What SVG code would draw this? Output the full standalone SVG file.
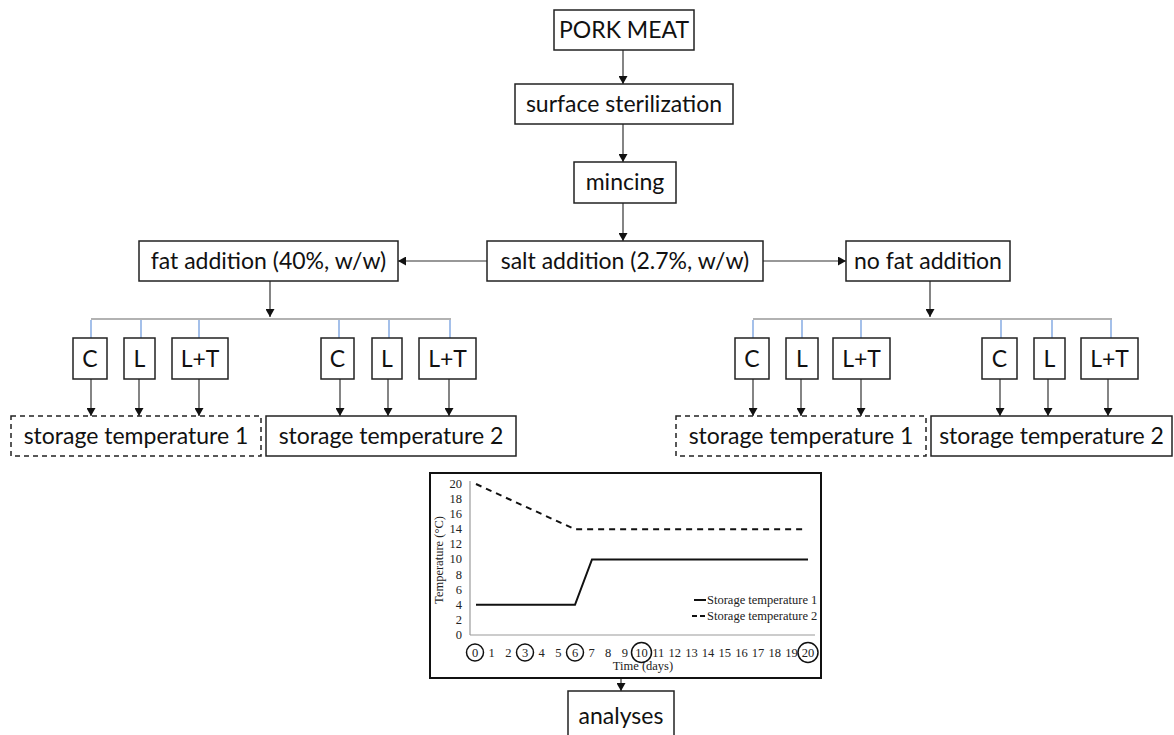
<svg xmlns="http://www.w3.org/2000/svg" width="1174" height="735" viewBox="0 0 1174 735">
  <style>
    .box { fill: #fff; stroke: #222; stroke-width: 1.5; }
    .dash { fill: #fff; stroke: #222; stroke-width: 1.5; stroke-dasharray: 5 4; }
    .lbl { font-family: Lato, "Liberation Sans", sans-serif; font-size: 23px; fill: #111; text-anchor: middle; }
    .arrow { stroke: #333; stroke-width: 1.2; fill: none; marker-end: url(#head); }
    .bar { stroke: #666; stroke-width: 1.2; fill: none; }
    .tick { stroke: #7fa6e2; stroke-width: 1.4; fill: none; }
    .ch { font-family: "Liberation Serif", serif; font-size: 12.5px; fill: #222; }
    .ax { stroke: #9a9a9a; stroke-width: 1.2; fill: none; }
    .ring { fill: none; stroke: #111; stroke-width: 1.5; }
  </style>
  <defs>
    <marker id="head" markerUnits="userSpaceOnUse" markerWidth="9" markerHeight="9" refX="8" refY="4.5" orient="auto">
      <path d="M0,0 L8,4.5 L0,9 z" fill="#111"/>
    </marker>
  </defs>
  <rect width="1174" height="735" fill="#fff"/>

  <!-- connectors -->
  <g id="connectors">
    <line class="arrow" x1="623" y1="50" x2="623" y2="84"/>
    <line class="arrow" x1="623" y1="124" x2="623" y2="162"/>
    <line class="arrow" x1="623" y1="203" x2="623" y2="241"/>
    <line class="arrow" x1="487" y1="261" x2="398" y2="261"/>
    <line class="arrow" x1="763" y1="261" x2="846" y2="261"/>
    <line class="arrow" x1="270" y1="281" x2="270" y2="317"/>
    <line class="arrow" x1="930" y1="281" x2="930" y2="317"/>
    <!-- branch bars -->
    <line class="bar" x1="91" y1="319" x2="451" y2="319"/>
    <line class="bar" x1="753" y1="319" x2="1112" y2="319"/>
    <path class="tick" d="M91,320V338 M141,320V338 M199,320V338 M339,320V338 M389,320V338 M450,320V338"/>
    <path class="tick" d="M753,320V338 M802,320V338 M861,320V338 M1001,320V338 M1052,320V338 M1111,320V338"/>
    <!-- treatment to storage -->
    <line class="arrow" x1="91" y1="379" x2="91" y2="416"/>
    <line class="arrow" x1="139" y1="379" x2="139" y2="416"/>
    <line class="arrow" x1="199" y1="379" x2="199" y2="416"/>
    <line class="arrow" x1="340" y1="379" x2="340" y2="416"/>
    <line class="arrow" x1="388" y1="379" x2="388" y2="416"/>
    <line class="arrow" x1="449" y1="379" x2="449" y2="416"/>
    <line class="arrow" x1="753" y1="379" x2="753" y2="416"/>
    <line class="arrow" x1="801" y1="379" x2="801" y2="416"/>
    <line class="arrow" x1="861" y1="379" x2="861" y2="416"/>
    <line class="arrow" x1="1000" y1="379" x2="1000" y2="416"/>
    <line class="arrow" x1="1048" y1="379" x2="1048" y2="416"/>
    <line class="arrow" x1="1108" y1="379" x2="1108" y2="416"/>
    <line class="arrow" x1="621" y1="678" x2="621" y2="691"/>
  </g>

  <!-- process steps -->
  <g id="pork-meat"><rect class="box" x="554" y="10" width="140" height="40"/><text class="lbl" x="624" y="38">PORK MEAT</text></g>
  <g id="sterilization"><rect class="box" x="515" y="84" width="218" height="40"/><text class="lbl" x="624" y="112">surface sterilization</text></g>
  <g id="mincing"><rect class="box" x="574" y="162" width="102" height="41"/><text class="lbl" x="625" y="190">mincing</text></g>
  <g id="salt"><rect class="box" x="487" y="241" width="276" height="40"/><text class="lbl" x="625" y="269">salt addition (2.7%, w/w)</text></g>
  <g id="fat"><rect class="box" x="139" y="241" width="259" height="40"/><text class="lbl" x="268.5" y="269">fat addition (40%, w/w)</text></g>
  <g id="no-fat"><rect class="box" x="846" y="241" width="164" height="40"/><text class="lbl" x="928" y="269">no fat addition</text></g>

  <!-- treatments, fat branch -->
  <g id="fat-c1"><rect class="box" x="73" y="338" width="34" height="41"/><text class="lbl" x="90" y="367">C</text></g>
  <g id="fat-l1"><rect class="box" x="124" y="338" width="31" height="41"/><text class="lbl" x="139.5" y="367">L</text></g>
  <g id="fat-lt1"><rect class="box" x="172" y="338" width="56" height="41"/><text class="lbl" x="200" y="367">L+T</text></g>
  <g id="fat-c2"><rect class="box" x="321" y="338" width="33" height="41"/><text class="lbl" x="337.5" y="367">C</text></g>
  <g id="fat-l2"><rect class="box" x="372" y="338" width="30" height="41"/><text class="lbl" x="387" y="367">L</text></g>
  <g id="fat-lt2"><rect class="box" x="419" y="338" width="57" height="41"/><text class="lbl" x="447.5" y="367">L+T</text></g>

  <!-- treatments, no-fat branch -->
  <g id="nofat-c1"><rect class="box" x="735" y="338" width="34" height="41"/><text class="lbl" x="752" y="367">C</text></g>
  <g id="nofat-l1"><rect class="box" x="786" y="338" width="32" height="41"/><text class="lbl" x="802" y="367">L</text></g>
  <g id="nofat-lt1"><rect class="box" x="833" y="338" width="57" height="41"/><text class="lbl" x="861.5" y="367">L+T</text></g>
  <g id="nofat-c2"><rect class="box" x="982" y="338" width="35" height="41"/><text class="lbl" x="999.5" y="367">C</text></g>
  <g id="nofat-l2"><rect class="box" x="1034" y="338" width="31" height="41"/><text class="lbl" x="1049.5" y="367">L</text></g>
  <g id="nofat-lt2"><rect class="box" x="1081" y="338" width="57" height="41"/><text class="lbl" x="1109.5" y="367">L+T</text></g>

  <!-- storage conditions -->
  <g id="fat-storage1"><rect class="dash" x="11" y="416" width="250" height="40"/><text class="lbl" x="136" y="444">storage temperature 1</text></g>
  <g id="fat-storage2"><rect class="box" x="266" y="416" width="250" height="40"/><text class="lbl" x="391" y="444">storage temperature 2</text></g>
  <g id="nofat-storage1"><rect class="dash" x="676" y="416" width="250" height="40"/><text class="lbl" x="801" y="444">storage temperature 1</text></g>
  <g id="nofat-storage2"><rect class="box" x="931" y="416" width="241" height="40"/><text class="lbl" x="1051.5" y="444">storage temperature 2</text></g>

  <!-- temperature profile chart -->
  <g id="chart">
    <rect x="430" y="473" width="391" height="205" fill="#fff" stroke="#111" stroke-width="2"/>
    <line class="ax" x1="470" y1="481" x2="470" y2="635"/>
    <line class="ax" x1="470" y1="635" x2="815" y2="635"/>
    <g class="ch" text-anchor="end">
      <text x="462" y="488">20</text>
      <text x="462" y="503">18</text>
      <text x="462" y="518">16</text>
      <text x="462" y="533">14</text>
      <text x="462" y="548">12</text>
      <text x="462" y="563">10</text>
      <text x="462" y="579">8</text>
      <text x="462" y="594">6</text>
      <text x="462" y="609">4</text>
      <text x="462" y="624">2</text>
      <text x="462" y="639">0</text>
    </g>
    <text class="ch" transform="translate(443,560) rotate(-90)" text-anchor="middle">Temperature (°C)</text>
    <!-- series -->
    <polyline points="476,484 575,529.3 806,529.3" fill="none" stroke="#111" stroke-width="2" stroke-dasharray="6 5"/>
    <polyline points="476,604.8 575,604.8 592,559.5 808,559.5" fill="none" stroke="#111" stroke-width="2"/>
    <!-- legend -->
    <line x1="694" y1="600" x2="706" y2="600" stroke="#111" stroke-width="2"/>
    <text class="ch" x="707" y="604">Storage temperature 1</text>
    <path d="M692,616H697 M700,616H705" stroke="#111" stroke-width="2"/>
    <text class="ch" x="707" y="620">Storage temperature 2</text>
    <!-- day axis -->
    <g class="ch" text-anchor="middle">
      <text x="475" y="657">0</text>
      <text x="491.7" y="657">1</text>
      <text x="508.3" y="657">2</text>
      <text x="525" y="657">3</text>
      <text x="541.6" y="657">4</text>
      <text x="558.3" y="657">5</text>
      <text x="575" y="657">6</text>
      <text x="591.6" y="657">7</text>
      <text x="608.2" y="657">8</text>
      <text x="624.9" y="657">9</text>
      <text x="641.5" y="657">10</text>
      <text x="658.2" y="657">11</text>
      <text x="674.8" y="657">12</text>
      <text x="691.5" y="657">13</text>
      <text x="708.1" y="657">14</text>
      <text x="724.8" y="657">15</text>
      <text x="741.4" y="657">16</text>
      <text x="758.1" y="657">17</text>
      <text x="774.7" y="657">18</text>
      <text x="791.4" y="657">19</text>
      <text x="808" y="657">20</text>
      <text x="643" y="670">Time (days)</text>
    </g>
    <circle class="ring" cx="475" cy="652.5" r="8.5"/>
    <circle class="ring" cx="525" cy="652.5" r="8.5"/>
    <circle class="ring" cx="575" cy="652.5" r="8.5"/>
    <circle class="ring" cx="641.5" cy="652.5" r="10"/>
    <circle class="ring" cx="808" cy="652.5" r="10"/>
  </g>

  <g id="analyses"><rect class="box" x="568" y="691" width="106" height="50"/><text class="lbl" x="621" y="724">analyses</text></g>
</svg>
